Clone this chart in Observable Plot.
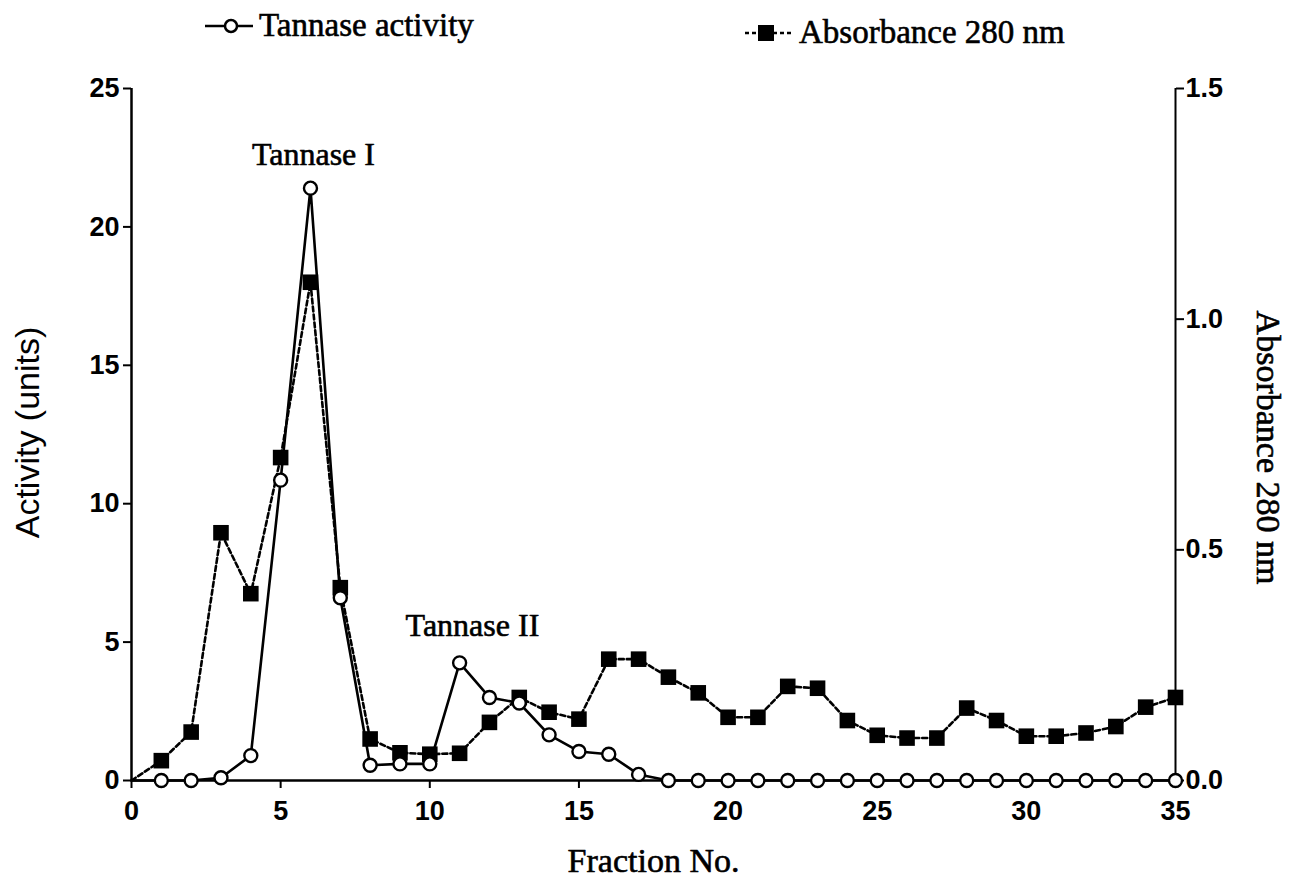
<!DOCTYPE html>
<html>
<head>
<meta charset="utf-8">
<script src="https://cdn.jsdelivr.net/npm/d3@7"></script>
<script src="https://cdn.jsdelivr.net/npm/@observablehq/plot@0.6"></script>
<style>
  html, body { margin: 0; padding: 0; background: #fff; }
  #wrap { position: relative; width: 1302px; height: 889px; }
  .leg { position: absolute; display: flex; align-items: center; font-family: "Liberation Serif", "Times New Roman", serif; font-size: 33px; color: #000; -webkit-text-stroke: 0.6px #000; }
  .leg svg { margin-right: 4px; }
</style>
</head>
<body>
<div id="wrap">
  <div class="leg" style="left:203px; top:7px;">
    <svg width="52" height="20"><line x1="2" y1="10" x2="50" y2="10" stroke="#000" stroke-width="2.5"/><circle cx="28" cy="10" r="6" fill="#fff" stroke="#000" stroke-width="2.5"/></svg>
    <span>Tannase activity</span>
  </div>
  <div class="leg" style="left:743px; top:14px;">
    <svg width="52" height="20"><line x1="2" y1="10" x2="50" y2="10" stroke="#000" stroke-width="2.5" stroke-dasharray="4,3"/><rect x="15" y="2" width="16" height="16" fill="#000"/></svg>
    <span>Absorbance 280 nm</span>
  </div>
  <div id="chart"></div>
</div>
<script>
const fractions = d3.range(0, 36);
const activity = [0, 0, 0, 0.1, 0.9, 10.85, 21.4, 6.6, 0.55, 0.6, 0.6, 4.25, 3.0, 2.8, 1.65, 1.05, 0.95, 0.22,
  0, 0, 0, 0, 0, 0, 0, 0, 0, 0, 0, 0, 0, 0, 0, 0, 0, 0];
const absorbance = [0, 0.043, 0.105, 0.537, 0.405, 0.70, 1.08, 0.418, 0.09, 0.06, 0.057, 0.059, 0.126, 0.18, 0.148, 0.133,
  0.263, 0.263, 0.224, 0.19, 0.137, 0.137, 0.204, 0.2, 0.13, 0.098, 0.092, 0.092, 0.157, 0.13, 0.096, 0.096, 0.103, 0.117, 0.159, 0.18];
const xTicks = [0, 5, 10, 15, 20, 25, 30, 35];
const leftTicks = [0, 5, 10, 15, 20, 25];
const rightTicks = [0, 0.5, 1.0, 1.5];
const annotations = [
  {f: 6.1, v: 22.6, label: "Tannase I"},
  {f: 11.43, v: 5.6, label: "Tannase II"}
];

const k = 25 / 1.5; // absorbance -> activity scale
const actData = fractions.map((f, i) => ({f, v: activity[i]}));
const absData = fractions.map((f, i) => ({f, v: absorbance[i] * k}));
const serif = "Liberation Serif, Times New Roman, serif";
const sans = "Liberation Sans, Arial, sans-serif";

const plot = Plot.plot({
  width: 1302,
  height: 889,
  marginLeft: 131,
  marginRight: 127,
  marginTop: 88,
  marginBottom: 109,
  style: {fontFamily: sans, fontSize: "26px", color: "#000", background: "#fff"},
  x: {domain: [0, 35]},
  y: {domain: [0, 25]},
  marks: [
    Plot.axisX({ticks: xTicks, tickSize: 8, tickPadding: 12, tickFormat: d => String(d), label: null, fontSize: 27, fontWeight: "bold", strokeWidth: 2}),
    Plot.axisY({anchor: "left", ticks: leftTicks, tickSize: 8, tickPadding: 4, tickFormat: d => String(d), label: null, fontSize: 27, fontWeight: "bold", strokeWidth: 2}),
    Plot.axisY({anchor: "right", ticks: rightTicks.map(t => t * k), tickSize: 8, tickPadding: 2, tickFormat: d => (d / k).toFixed(1), label: null, fontSize: 27, fontWeight: "bold", strokeWidth: 2}),
    Plot.ruleX([0], {y1: 0, y2: 25, strokeWidth: 2.5}),
    Plot.ruleX([35], {y1: 0, y2: 25, strokeWidth: 2}),
    Plot.ruleY([0], {strokeWidth: 2.5}),
    Plot.line(absData, {x: "f", y: "v", stroke: "#000", strokeWidth: 2.6, strokeDasharray: "5,3"}),
    Plot.line(actData, {x: "f", y: "v", stroke: "#000", strokeWidth: 2.6}),
    Plot.dot(absData.filter(d => d.f > 0), {x: "f", y: "v", symbol: "square", r: 8.8, fill: "#000", stroke: "none"}),
    Plot.dot(actData.filter(d => d.f > 0), {x: "f", y: "v", r: 6.5, fill: "#fff", stroke: "#000", strokeWidth: 2.4}),
    Plot.text(annotations, {x: "f", y: "v", text: "label", fontFamily: serif, fontSize: 32, fill: "#000", stroke: "#000", strokeWidth: 0.6}),
    Plot.text(["Activity (units)"], {text: d => d, frameAnchor: "left", textAnchor: "middle", rotate: -90, dx: -103, dy: -2, fontFamily: sans, fontSize: 34, fill: "#000"}),
    Plot.text(["Absorbance 280 nm"], {text: d => d, frameAnchor: "right", textAnchor: "middle", rotate: 90, dx: 92, dy: 13, fontFamily: serif, fontSize: 34, fill: "#000", stroke: "#000", strokeWidth: 0.6}),
    Plot.text(["Fraction No."], {text: d => d, frameAnchor: "bottom", dy: 91, fontFamily: serif, fontSize: 34, fill: "#000", stroke: "#000", strokeWidth: 0.6})
  ]
});
document.getElementById("chart").appendChild(plot);
</script>
</body>
</html>
